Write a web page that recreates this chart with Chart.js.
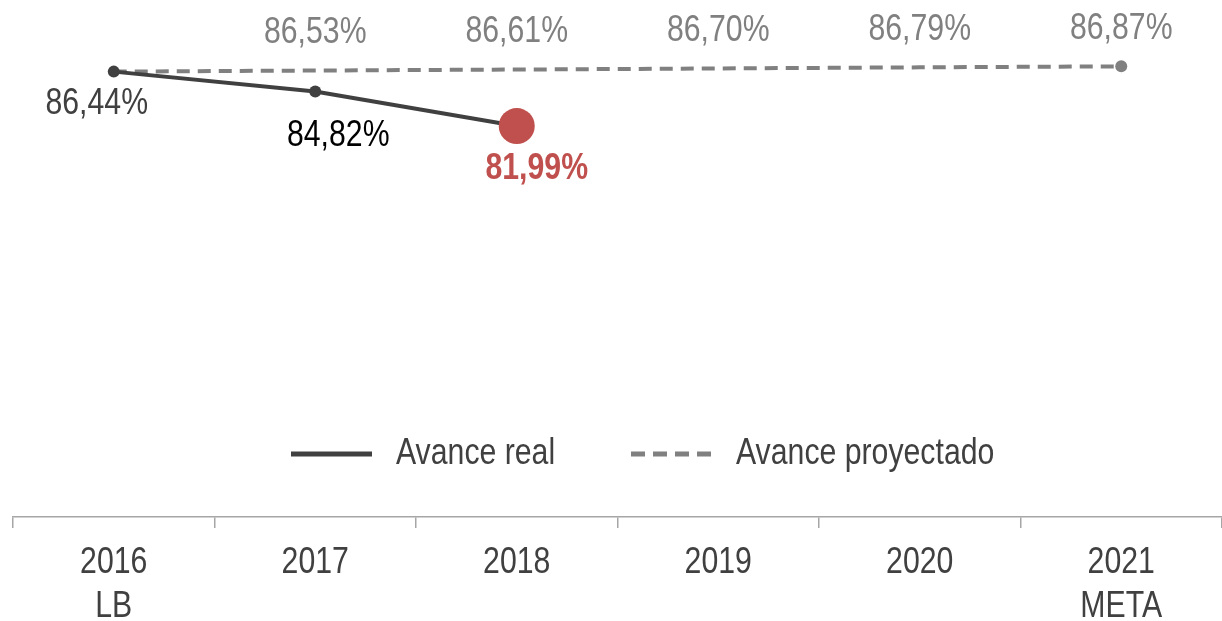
<!DOCTYPE html>
<html>
<head>
<meta charset="utf-8">
<script src="https://cdn.jsdelivr.net/npm/chart.js@4/dist/chart.umd.min.js"></script>
<style>
  html, body { margin: 0; padding: 0; background: #fff; }
</style>
</head>
<body>
<canvas id="myChart" width="1222" height="621"></canvas>
<script>
const years = [['2016', 'LB'], '2017', '2018', '2019', '2020', ['2021', 'META']]
const avanceReal = [86.44, 84.82, 81.99, null, null, null]
const avanceProyectado = [86.44, 86.53, 86.61, 86.70, 86.79, 86.87]
const legendNames = ['Avance real', 'Avance proyectado']

const FONT = "'Liberation Sans', Arial, sans-serif"
const SQUEEZE = 0.84 // the original uses a narrow face
const fmt = v => v.toFixed(2).replace('.', ',') + '%'

function narrowText (ctx, text, x, y, align) {
    ctx.save()
    ctx.translate(x, y)
    ctx.scale(SQUEEZE, 1)
    ctx.textAlign = align || 'center'
    ctx.fillText(text, 0, 0)
    ctx.restore()
}

// labels next to the points
const labelPlugin = {
    id: 'pointLabels',
    afterDatasetsDraw (chart) {
        const ctx = chart.ctx
        ctx.save()
        ctx.textBaseline = 'middle'
        const real = chart.getDatasetMeta(0).data
        const realStyle = [
            { dx: -17, dy: 32, color: '#404040', bold: false },
            { dx: 23, dy: 45, color: '#000000', bold: false },
            { dx: 20, dy: 43, color: '#C0504D', bold: true },
        ]
        real.forEach((pt, i) => {
            const v = avanceReal[i]
            if (v == null) return
            const s = realStyle[i]
            ctx.font = (s.bold ? 'bold ' : '') + '36px ' + FONT
            ctx.fillStyle = s.color
            narrowText(ctx, fmt(v), pt.x + s.dx, pt.y + s.dy)
        })
        const proj = chart.getDatasetMeta(1).data
        ctx.font = '36px ' + FONT
        ctx.fillStyle = '#808080'
        proj.forEach((pt, i) => {
            if (i === 0) return
            narrowText(ctx, fmt(avanceProyectado[i]), pt.x, pt.y - 37)
        })
        ctx.restore()
    }
}

// x tick labels, drawn narrow
const tickPlugin = {
    id: 'narrowTicks',
    afterDraw (chart) {
        const ctx = chart.ctx
        const x = chart.scales.x
        ctx.save()
        ctx.font = '36px ' + FONT
        ctx.fillStyle = '#404040'
        ctx.textBaseline = 'middle'
        years.forEach((lab, i) => {
            const lines = Array.isArray(lab) ? lab : [lab]
            const px = x.getPixelForTick(i)
            lines.forEach((t, j) => narrowText(ctx, t, px, 563 + j * 44))
        })
        ctx.restore()
    }
}

// legend drawn inside the plot area
const legendPlugin = {
    id: 'innerLegend',
    afterDraw (chart) {
        const ctx = chart.ctx
        ctx.save()
        const y = 454
        ctx.lineWidth = 5
        ctx.strokeStyle = '#404040'
        ctx.beginPath(); ctx.moveTo(291, y); ctx.lineTo(372, y); ctx.stroke()
        ctx.strokeStyle = '#808080'
        ctx.setLineDash([14, 8])
        ctx.beginPath(); ctx.moveTo(631, y); ctx.lineTo(712, y); ctx.stroke()
        ctx.setLineDash([])
        ctx.font = '36px ' + FONT
        ctx.fillStyle = '#404040'
        ctx.textBaseline = 'middle'
        narrowText(ctx, legendNames[0], 396, y, 'left')
        narrowText(ctx, legendNames[1], 736, y, 'left')
        ctx.restore()
    }
}

const ctx = document.getElementById('myChart')
new Chart(ctx, {
    type: 'line',
    data: {
        labels: years,
        datasets: [{
            label: legendNames[0],
            data: avanceReal,
            borderColor: '#404040',
            borderWidth: 4,
            pointRadius: [6, 6, 18, 0, 0, 0],
            pointBackgroundColor: ['#404040', '#404040', '#C0504D'],
            pointBorderWidth: 0,
            spanGaps: false,
            order: 0,
        }, {
            label: legendNames[1],
            data: avanceProyectado,
            borderColor: '#808080',
            borderWidth: 4,
            borderDash: [13, 8],
            pointRadius: [0, 0, 0, 0, 0, 6],
            pointBackgroundColor: '#808080',
            pointBorderWidth: 0,
            order: 1,
        }]
    },
    options: {
        responsive: false,
        animation: false,
        devicePixelRatio: 1,
        clip: false,
        layout: { autoPadding: false, padding: { left: 13, right: 0, top: 0, bottom: 0 } },
        plugins: { legend: { display: false }, tooltip: { enabled: false } },
        scales: {
            y: { display: false, min: 50, max: 92.3 },
            x: {
                offset: true,
                border: { display: true, color: '#a6a6a6', width: 1.5 },
                grid: { offset: true, drawOnChartArea: false, drawTicks: true, tickLength: 11, color: '#a6a6a6', lineWidth: 1.5 },
                ticks: { color: 'rgba(0,0,0,0)', font: { family: FONT, size: 36, lineHeight: 1.2 }, padding: 6, maxRotation: 0 },
                afterFit (scale) {
                    scale.height = 104
                    scale.paddingLeft = 0
                    scale.paddingRight = 0
                }
            }
        }
    },
    plugins: [labelPlugin, tickPlugin, legendPlugin]
})
</script>
</body>
</html>
